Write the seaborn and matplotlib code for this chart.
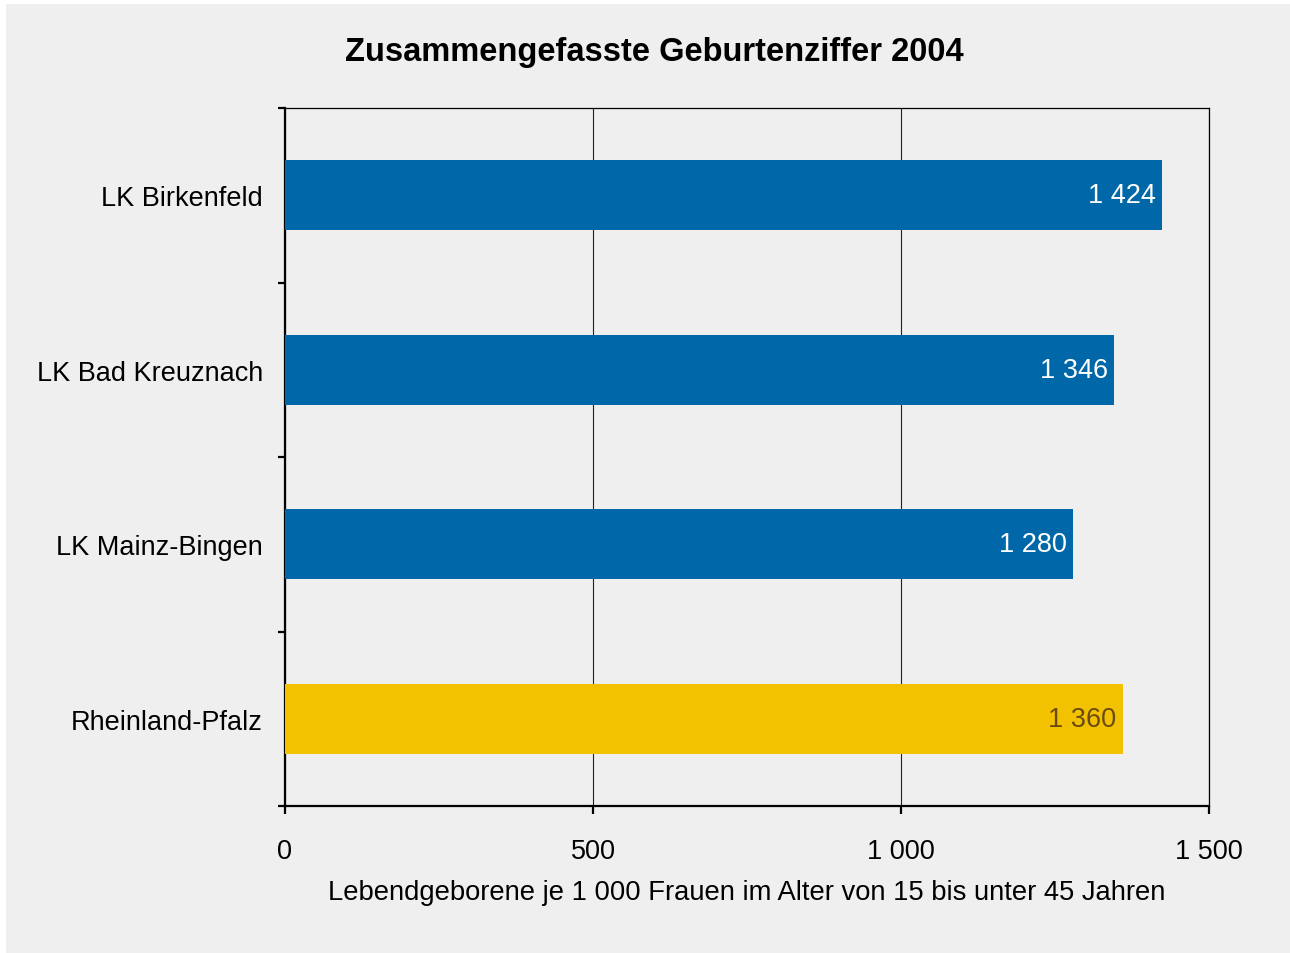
import pandas as pd
import matplotlib.pyplot as plt
import matplotlib.patches as mpatches
from matplotlib.ticker import FixedLocator, FuncFormatter
import seaborn as sns

# data
regions = ["LK Birkenfeld", "LK Bad Kreuznach", "LK Mainz-Bingen", "Rheinland-Pfalz"]
values = [1424, 1346, 1280, 1360]
bar_colors = ["#0068A8", "#0068A8", "#0068A8", "#F2C200"]
label_colors = ["white", "white", "white", "#6B4A10"]

df = pd.DataFrame({"region": regions, "value": values})

bg = "#EEEFEE"
sns.set_style("white")
plt.rcParams["font.family"] = ["Liberation Sans", "DejaVu Sans"]
plt.rcParams["text.color"] = "black"
plt.rcParams["axes.labelcolor"] = "black"
plt.rcParams["xtick.color"] = "black"
plt.rcParams["ytick.color"] = "black"

fig = plt.figure(figsize=(12.9, 9.54), dpi=100, facecolor="white")
# gray panel with a thin white margin
fig.patches.append(mpatches.Rectangle((6 / 1290, 0), 1 - 6 / 1290, 1 - 5 / 954,
                                      transform=fig.transFigure, facecolor=bg,
                                      edgecolor="none", zorder=-10))
ax = fig.add_axes([285 / 1290, 1 - 807 / 954, (1209 - 285) / 1290, (807 - 109) / 954])
ax.set_facecolor(bg)

sns.barplot(data=df, x="value", y="region", hue="region", palette=bar_colors,
            orient="h", width=0.4, legend=False, saturation=1, linewidth=0,
            edgecolor="none", ax=ax, zorder=3)

ax.set_xlim(0, 1500)
ax.set_ylim(3.5, -0.5)
ax.set_xticks([0, 500, 1000, 1500])
ax.xaxis.set_major_formatter(FuncFormatter(lambda v, p: f"{int(v):,}".replace(",", " ")))
ax.grid(axis="x", color="#222222", linewidth=0.8, zorder=0)
ax.grid(axis="y", visible=False)

# value labels inside the bars
for i, (v, c) in enumerate(zip(values, label_colors)):
    ax.text(v - 10, i, f"{v:,}".replace(",", " "), ha="right", va="center",
            color=c, fontsize=19.5, zorder=5)

for side in ["left", "bottom"]:
    ax.spines[side].set_linewidth(1.6)
    ax.spines[side].set_color("black")
for side in ["top", "right"]:
    ax.spines[side].set_linewidth(0.9)
    ax.spines[side].set_color("black")
    ax.spines[side].set_visible(True)

# y ticks: labels centred, tick marks between categories
ax.yaxis.set_minor_locator(FixedLocator([-0.5, 0.5, 1.5, 2.5, 3.5]))
ax.tick_params(axis="y", which="major", length=0, pad=16, labelsize=19.5)
ax.tick_params(axis="y", which="minor", length=5, width=1.6, direction="out", left=True)
ax.tick_params(axis="x", which="major", length=6, width=1.6, direction="out",
               bottom=True, pad=17, labelsize=19.5)

ax.set_ylabel("")
ax.set_xlabel("Lebendgeborene je 1 000 Frauen im Alter von 15 bis unter 45 Jahren",
              fontsize=19.7, labelpad=11)

fig.text(654 / 1290, 1 - 52 / 954, "Zusammengefasste Geburtenziffer 2004",
         ha="center", va="center", fontsize=23.5, fontweight="bold")

fig.savefig("out.png", dpi=100, facecolor="white")
